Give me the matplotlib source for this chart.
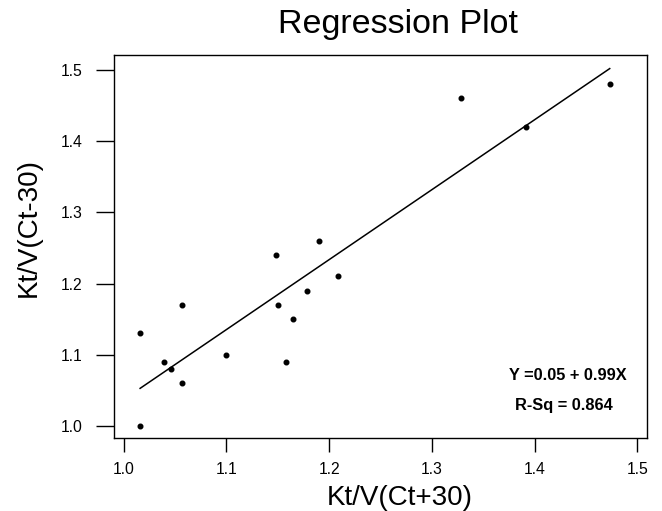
import numpy as np
import matplotlib
matplotlib.use("Agg")
import matplotlib.pyplot as plt

plt.rcParams['font.family'] = ['Liberation Sans', 'DejaVu Sans']

# Kt/V values
kt_v_plus30 = [1.016, 1.016, 1.039, 1.046, 1.057, 1.057, 1.100, 1.148, 1.150,
               1.158, 1.165, 1.178, 1.190, 1.209, 1.328, 1.392, 1.473]
kt_v_minus30 = [1.13, 1.00, 1.09, 1.08, 1.17, 1.06, 1.10, 1.24, 1.17,
                1.09, 1.15, 1.19, 1.26, 1.21, 1.46, 1.42, 1.48]

# regression as printed on the chart
intercept = 0.05
slope = 0.99
r_sq = 0.864
# the drawn line (unrounded fit)
line_intercept = 0.054
line_slope = 0.983

x_ticks = [1.0, 1.1, 1.2, 1.3, 1.4, 1.5]
y_ticks = [1.0, 1.1, 1.2, 1.3, 1.4, 1.5]

fig = plt.figure(figsize=(6.62, 5.11), dpi=100)
ax = fig.add_axes([0.1727, 0.1429, 0.8042, 0.7501])

ax.scatter(kt_v_plus30, kt_v_minus30, s=11, color='black', zorder=3)

xs = np.array([min(kt_v_plus30), max(kt_v_plus30)])
ax.plot(xs, line_intercept + line_slope * xs, color='black', lw=1.1)

ax.set_xlim(0.9909, 1.509)
ax.set_ylim(0.983, 1.5215)
ax.set_xticks(x_ticks)
ax.set_yticks(y_ticks)
ax.set_xticklabels([f"{t:.1f}" for t in x_ticks])
ax.set_yticklabels([f"{t:.1f}" for t in y_ticks])
ax.tick_params(axis='x', direction='out', length=10, width=1.0, pad=7, labelsize=11.3)
ax.tick_params(axis='y', direction='out', length=13, width=1.0, pad=10, labelsize=11.3)
for sp in ax.spines.values():
    sp.set_linewidth(1.0)

ax.set_title("Regression Plot", fontsize=24.5, x=0.533, y=1.0567, va='baseline', pad=0)
ax.set_xlabel("Kt/V(Ct+30)", fontsize=20, va='baseline')
ax.xaxis.set_label_coords(0.537, -0.175)
ax.set_ylabel("Kt/V(Ct-30)", fontsize=20, va='center')
ax.yaxis.set_label_coords(-0.160, 0.548)

ax.text(0.852, 0.164, f"Y ={intercept:.2f} + {slope:.2f}X", transform=ax.transAxes,
        ha='center', va='center', fontsize=11.8, fontweight='bold')
ax.text(0.845, 0.086, f"R-Sq = {r_sq:.3f}", transform=ax.transAxes,
        ha='center', va='center', fontsize=11.8, fontweight='bold')

fig.savefig("out.png", dpi=100)
